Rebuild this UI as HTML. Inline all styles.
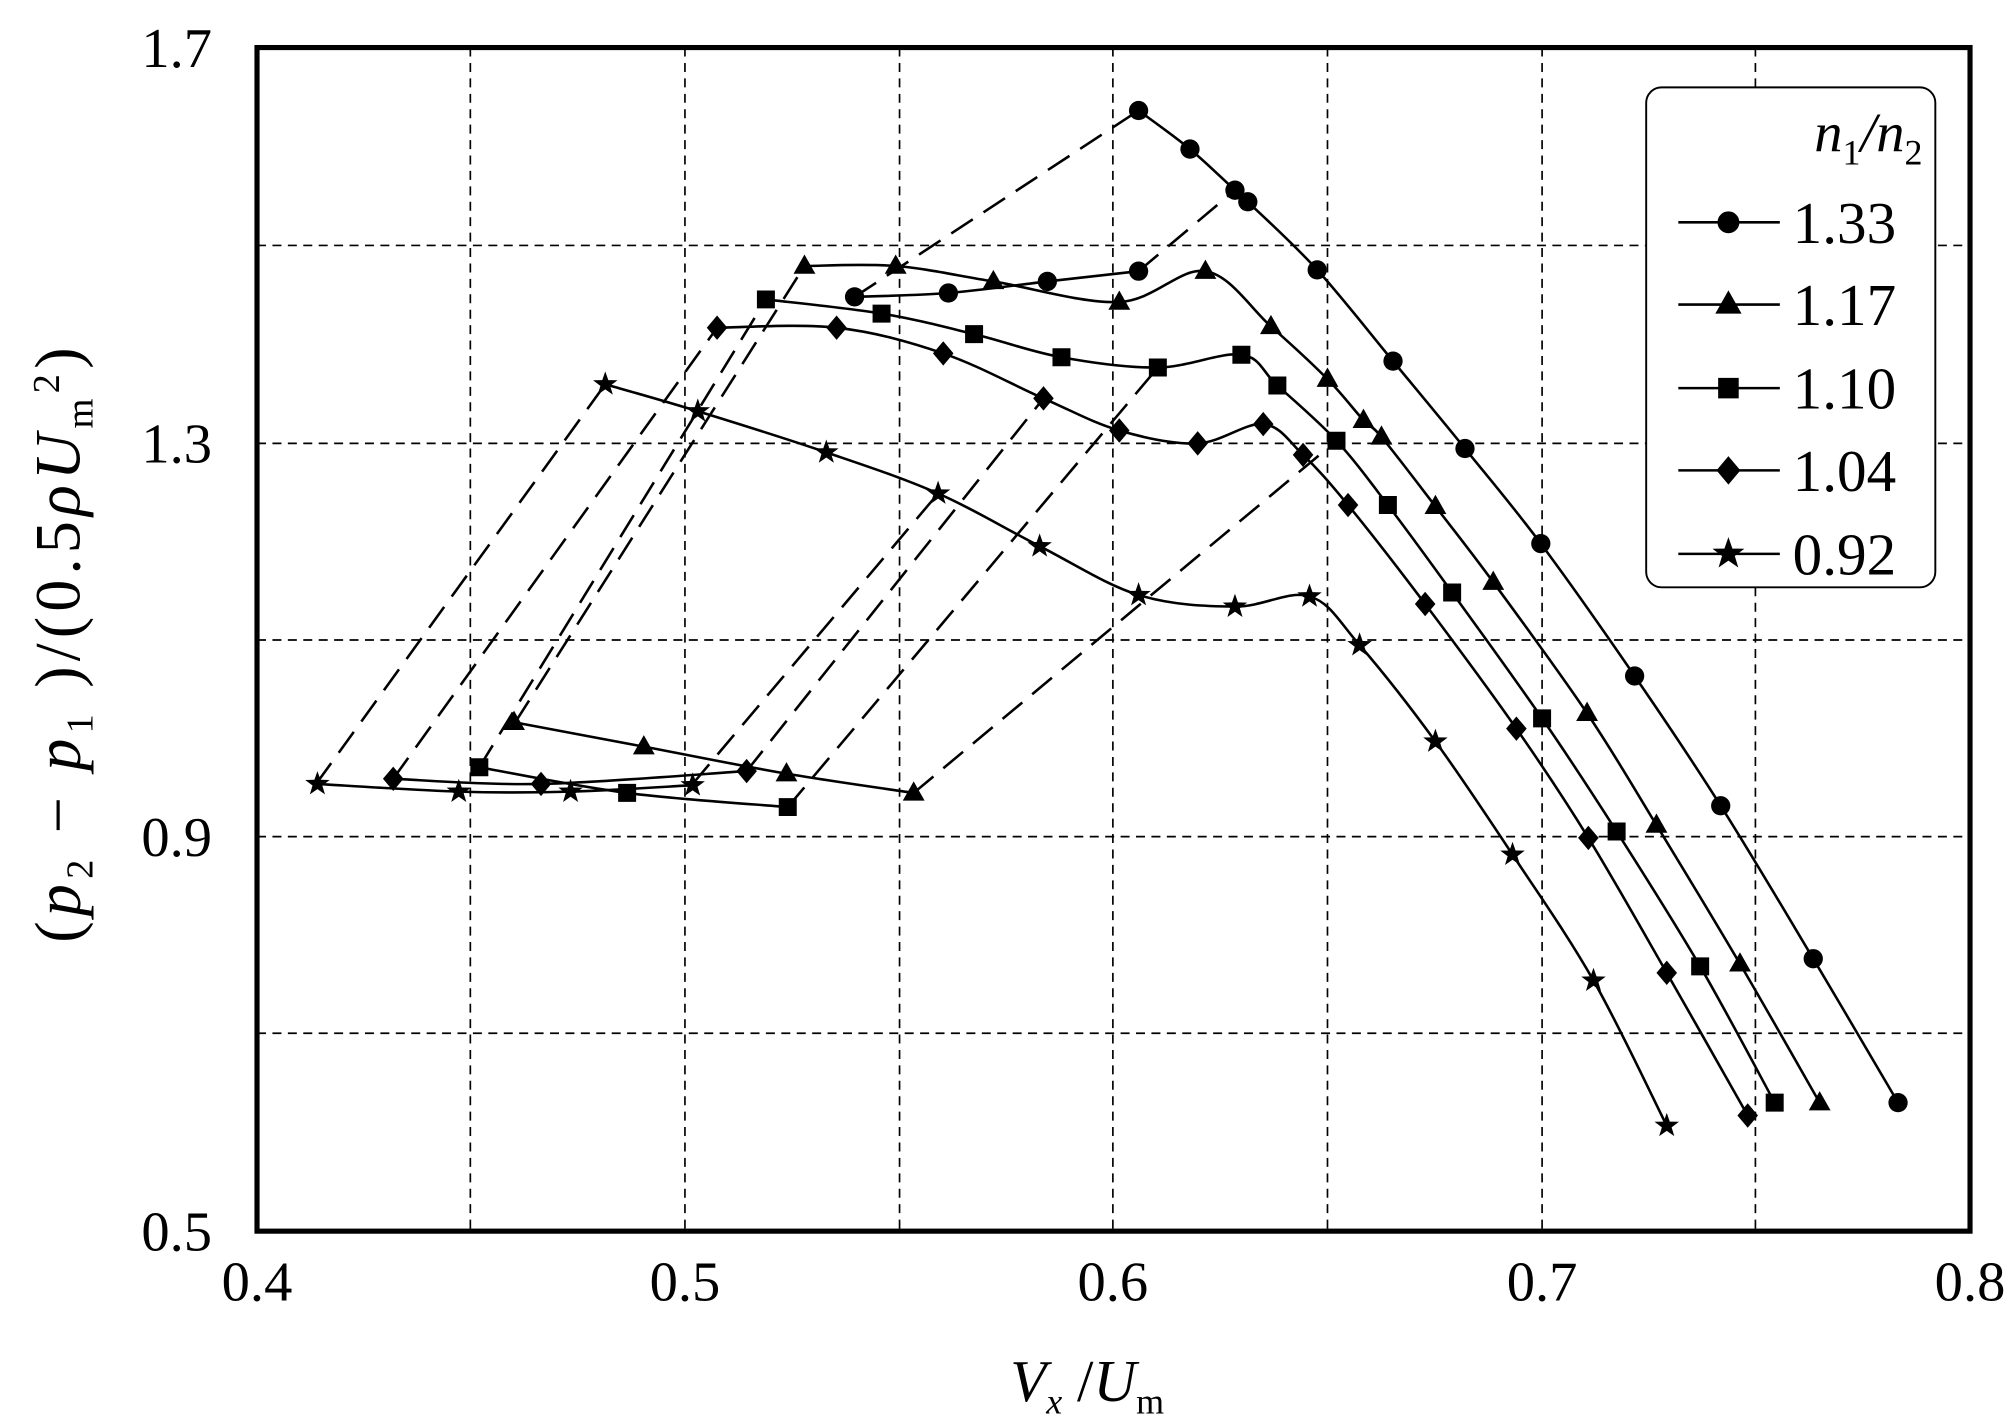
<!DOCTYPE html>
<html><head><style>
html,body{margin:0;padding:0;background:#fff;}
svg{display:block;}
text{font-family:"Liberation Serif",serif;fill:#000;}
</style></head><body>
<svg id="s" width="2015" height="1422" viewBox="0 0 1568 1106.5" preserveAspectRatio="none" xmlns="http://www.w3.org/2000/svg">
<rect x="0" y="0" width="1568" height="1107" fill="#fff"/>
<g stroke="#000" stroke-width="1.3" stroke-dasharray="7,5" fill="none">
<line x1="366" y1="37" x2="366" y2="958"/><line x1="533" y1="37" x2="533" y2="958"/>
<line x1="700" y1="37" x2="700" y2="958"/><line x1="866" y1="37" x2="866" y2="958"/>
<line x1="1033" y1="37" x2="1033" y2="958"/><line x1="1200" y1="37" x2="1200" y2="958"/>
<line x1="1366" y1="37" x2="1366" y2="958"/>
<line x1="200" y1="191" x2="1533" y2="191"/><line x1="200" y1="345" x2="1533" y2="345"/>
<line x1="200" y1="498" x2="1533" y2="498"/><line x1="200" y1="651" x2="1533" y2="651"/>
<line x1="200" y1="804" x2="1533" y2="804"/>
</g>
<g id="d" stroke="#000" stroke-width="2" stroke-dasharray="20,10" fill="none">
<line x1="246" y1="610" x2="471" y2="299"/><line x1="306" y1="606" x2="558" y2="255"/>
<line x1="373" y1="597" x2="596" y2="233"/><line x1="401" y1="562" x2="626" y2="207"/>
<line x1="665" y1="231" x2="886" y2="86"/><line x1="886" y1="211" x2="961" y2="148"/>
<line x1="539" y1="610" x2="730" y2="384"/><line x1="581" y1="600" x2="812" y2="310"/>
<line x1="613" y1="628" x2="901" y2="286"/><line x1="711" y1="617" x2="1040" y2="343"/>
</g>
<g id="series" stroke="#000" stroke-width="2" fill="none"></g>
<g id="marks" fill="#000" stroke="none"></g>
<rect x="200" y="37" width="1333" height="921" fill="none" stroke="#000" stroke-width="4"/>
<rect x="1281" y="68" width="225" height="389" rx="12" fill="#fff" stroke="#000" stroke-width="1.5"/>
<text x="1496" y="118" font-size="44" font-style="italic" text-anchor="end">n<tspan font-size="28" font-style="normal" dy="10">1</tspan><tspan dy="-10">/n</tspan><tspan font-size="28" font-style="normal" dy="10">2</tspan></text>
<g id="leg" stroke="#000" stroke-width="2"></g>
<g font-size="46">
<text x="1395" y="189">1.33</text><text x="1395" y="253">1.17</text><text x="1395" y="318">1.10</text><text x="1395" y="382">1.04</text><text x="1395" y="447">0.92</text>
</g>
<g font-size="44" text-anchor="end">
<text x="165" y="52">1.7</text><text x="165" y="360">1.3</text><text x="165" y="666">0.9</text><text x="165" y="973">0.5</text>
</g>
<g font-size="44" text-anchor="middle">
<text x="200" y="1012">0.4</text><text x="533" y="1012">0.5</text><text x="866" y="1012">0.6</text><text x="1200" y="1012">0.7</text><text x="1533" y="1012">0.8</text>
</g>
<text x="846" y="1090" font-size="46" text-anchor="middle"><tspan font-style="italic">V</tspan><tspan font-size="28" font-style="italic" dy="10">x</tspan><tspan dy="-10"> /</tspan><tspan font-style="italic">U</tspan><tspan font-size="28" dy="10">m</tspan></text>
<text transform="translate(62,500) rotate(-90)" font-size="50" letter-spacing="4" text-anchor="middle">(<tspan font-style="italic">p</tspan><tspan font-size="30" dy="10">2</tspan><tspan dy="-10"> − </tspan><tspan font-style="italic">p</tspan><tspan font-size="30" dy="10">1</tspan><tspan dy="-10"> )/(0.5</tspan><tspan font-style="italic">ρU</tspan><tspan font-size="30" dy="10">m</tspan><tspan font-size="30" dy="-26">2</tspan><tspan dy="16">)</tspan></text>
</svg>
<script>
var NS="http://www.w3.org/2000/svg";
var S={
c:[[[665,231],[738,228],[815,219],[886,211]],[[886,86],[926,116],[961,148],[971,157],[1025,210],[1084,281],[1140,349],[1199,423],[1272,526],[1339,627],[1411,746],[1477,858]]],
t:[[[626,207],[697,207],[773,219],[871,235],[938,211],[989,254],[1033,295],[1061,327],[1075,340],[1117,394],[1162,453],[1235,555],[1289,642],[1354,750],[1416,858]],[[400,562],[501,581],[612,602],[711,617]]],
s:[[[596,233],[686,244],[758,260],[826,278],[901,286],[966,276],[994,300],[1040,343],[1080,393],[1130,461],[1200,559],[1258,647],[1323,752],[1381,858]],[[373,597],[488,617],[613,628]]],
d:[[[558,255],[651,255],[734,275],[812,310],[871,335],[932,345],[983,330],[1014,354],[1049,393],[1109,470],[1180,567],[1236,652],[1297,757],[1360,868]],[[306,606],[421,610],[581,600]]],
r:[[[471,299],[543,320],[643,352],[730,384],[809,425],[886,463],[961,472],[1019,464],[1058,502],[1117,577],[1177,665],[1240,763],[1297,876]],[[247,610],[357,616],[444,616],[539,611]]]
};
function path(p){var d="M"+p[0][0]+","+p[0][1];for(var i=0;i<p.length-1;i++){var p0=p[i-1]||p[i],p1=p[i],p2=p[i+1],p3=p[i+2]||p2;
d+=" C"+(p1[0]+(p2[0]-p0[0])/6)+","+(p1[1]+(p2[1]-p0[1])/6)+" "+(p2[0]-(p3[0]-p1[0])/6)+","+(p2[1]-(p3[1]-p1[1])/6)+" "+p2[0]+","+p2[1];}return d;}
function mk(t,x,y,g){var e;
if(t=="c"){e=document.createElementNS(NS,"circle");e.setAttribute("cx",x);e.setAttribute("cy",y);e.setAttribute("r",7.5);}
else{e=document.createElementNS(NS,"polygon");var pts;
if(t=="t")pts=[[x,y-9],[x+8.5,y+6],[x-8.5,y+6]];
else if(t=="s")pts=[[x-7,y-7],[x+7,y-7],[x+7,y+7],[x-7,y+7]];
else if(t=="d")pts=[[x,y-9.5],[x+8,y],[x,y+9.5],[x-8,y]];
else{pts=[];for(var k=0;k<10;k++){var r=k%2?4:10,a=-Math.PI/2+k*Math.PI/5;pts.push([x+r*Math.cos(a),y+r*Math.sin(a)]);}}
e.setAttribute("points",pts.map(function(p){return p.join(",")}).join(" "));}
g.appendChild(e);}
var sg=document.getElementById("series"),mg=document.getElementById("marks"),lg=document.getElementById("leg");
for(var k in S){S[k].forEach(function(p){var e=document.createElementNS(NS,"path");e.setAttribute("d",path(p));sg.appendChild(e);p.forEach(function(q){mk(k,q[0],q[1],mg);});});}
var ys=[173,237,302,366,431],ks=["c","t","s","d","r"];
ks.forEach(function(k,i){var l=document.createElementNS(NS,"line");l.setAttribute("x1",1306);l.setAttribute("x2",1385);l.setAttribute("y1",ys[i]);l.setAttribute("y2",ys[i]);lg.appendChild(l);mk(k,1345,ys[i],lg);});
</script>
</body></html>
